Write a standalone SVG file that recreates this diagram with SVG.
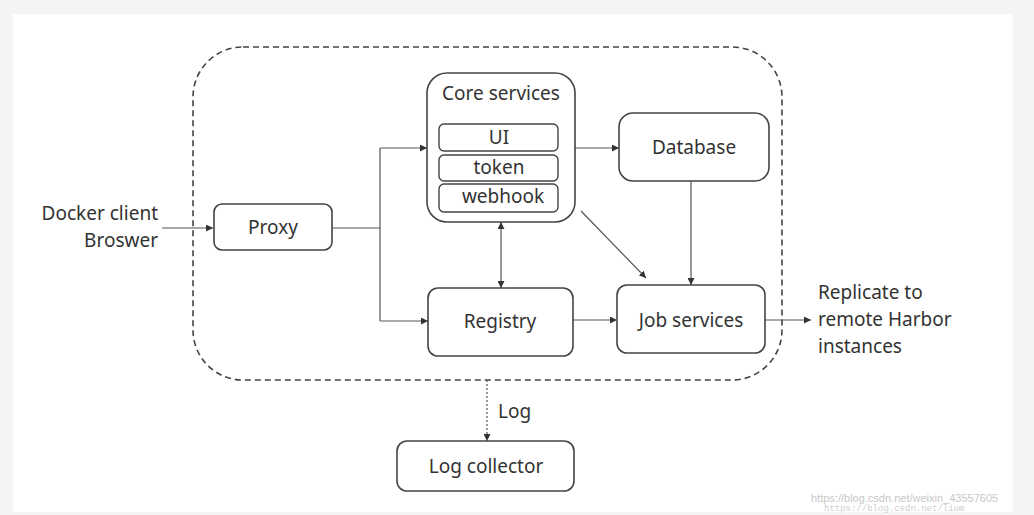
<svg xmlns="http://www.w3.org/2000/svg" width="1034" height="515" viewBox="0 0 1034 515">
<defs>
<style>
.node{fill:#fff;stroke:#444;stroke-width:1.6}
.sub{fill:#fff;stroke:#444;stroke-width:1.4}
.t{font-family:"Noto Sans","Open Sans","DejaVu Sans",sans-serif;font-size:19px;fill:#333}
.c{text-anchor:middle}
.e{fill:none;stroke:#555;stroke-width:1.2}
.wm{font-family:"Liberation Sans",Arial,sans-serif;font-size:11px;fill:#c8c8c8}
</style>
<marker id="ah" viewBox="0 0 10 10" refX="10" refY="5" markerWidth="7" markerHeight="7" markerUnits="userSpaceOnUse" orient="auto-start-reverse">
<path d="M0,0 L10,5 L0,10 z" fill="#333"/>
</marker>
</defs>
<rect x="0" y="0" width="1034" height="515" fill="#f4f4f4"/>
<rect x="13" y="14" width="1000" height="498" fill="#fff"/>
<g id="boundary">
<rect x="193" y="47" width="589" height="333" rx="50" fill="none" stroke="#444" stroke-width="1.6" stroke-dasharray="6,4"/>
</g>
<g id="connectors">
<path class="e" d="M162,228 L213,228" marker-end="url(#ah)"/>
<path class="e" d="M332,228 L380,228 M380,148 L380,321"/>
<path class="e" d="M380,148 L427,148" marker-end="url(#ah)"/>
<path class="e" d="M380,321 L428,321" marker-end="url(#ah)"/>
<path class="e" d="M575,148 L619,148" marker-end="url(#ah)"/>
<path class="e" d="M691,181 L691,285" marker-end="url(#ah)"/>
<path class="e" d="M581,211 L646,278" marker-end="url(#ah)"/>
<path class="e" d="M501,222 L501,288" marker-start="url(#ah)" marker-end="url(#ah)"/>
<path class="e" d="M573,320 L617,320" marker-end="url(#ah)"/>
<path class="e" d="M765,320 L811,320" marker-end="url(#ah)"/>
<path class="e" d="M487,380 L487,441" stroke-dasharray="2,2" marker-end="url(#ah)"/>
</g>
<g id="client">
<text class="t" x="158" y="220" text-anchor="end">Docker client</text>
<text class="t" x="158" y="247" text-anchor="end">Broswer</text>
</g>
<g id="proxy">
<rect class="node" x="214" y="204" width="118" height="46" rx="8"/>
<text class="t c" x="273" y="234">Proxy</text>
</g>
<g id="core">
<rect class="node" x="427" y="73" width="148" height="149" rx="20"/>
<text class="t c" x="501" y="100">Core services</text>
<rect class="sub" x="439" y="124" width="119" height="27" rx="5"/>
<text class="t c" x="499" y="144">UI</text>
<rect class="sub" x="439" y="155" width="119" height="26" rx="5"/>
<text class="t c" x="499" y="174">token</text>
<rect class="sub" x="439" y="184" width="119" height="28" rx="5"/>
<text class="t c" x="503" y="203">webhook</text>
</g>
<g id="database">
<rect class="node" x="619" y="113" width="150" height="68" rx="14"/>
<text class="t c" x="694" y="154">Database</text>
</g>
<g id="registry">
<rect class="node" x="428" y="288" width="145" height="68" rx="10"/>
<text class="t c" x="500" y="328">Registry</text>
</g>
<g id="jobservices">
<rect class="node" x="617" y="285" width="148" height="68" rx="10"/>
<text class="t c" x="691" y="327">Job services</text>
</g>
<g id="replicate">
<text class="t" x="818" y="299">Replicate to</text>
<text class="t" x="818" y="326">remote Harbor</text>
<text class="t" x="818" y="353">instances</text>
</g>
<g id="log">
<text class="t" x="498" y="418">Log</text>
</g>
<g id="logcollector">
<rect class="node" x="397" y="441" width="177" height="50" rx="10"/>
<text class="t c" x="486" y="473">Log collector</text>
</g>
<g id="watermark">
<text class="wm" x="811" y="502">https://blog.csdn.net/weixin_43557605</text>
<text x="824" y="511" style="font-family:'Liberation Mono',monospace;font-size:9px;fill:#d0d0d0">https://blog.csdn.net/lium</text>
</g>
</svg>
